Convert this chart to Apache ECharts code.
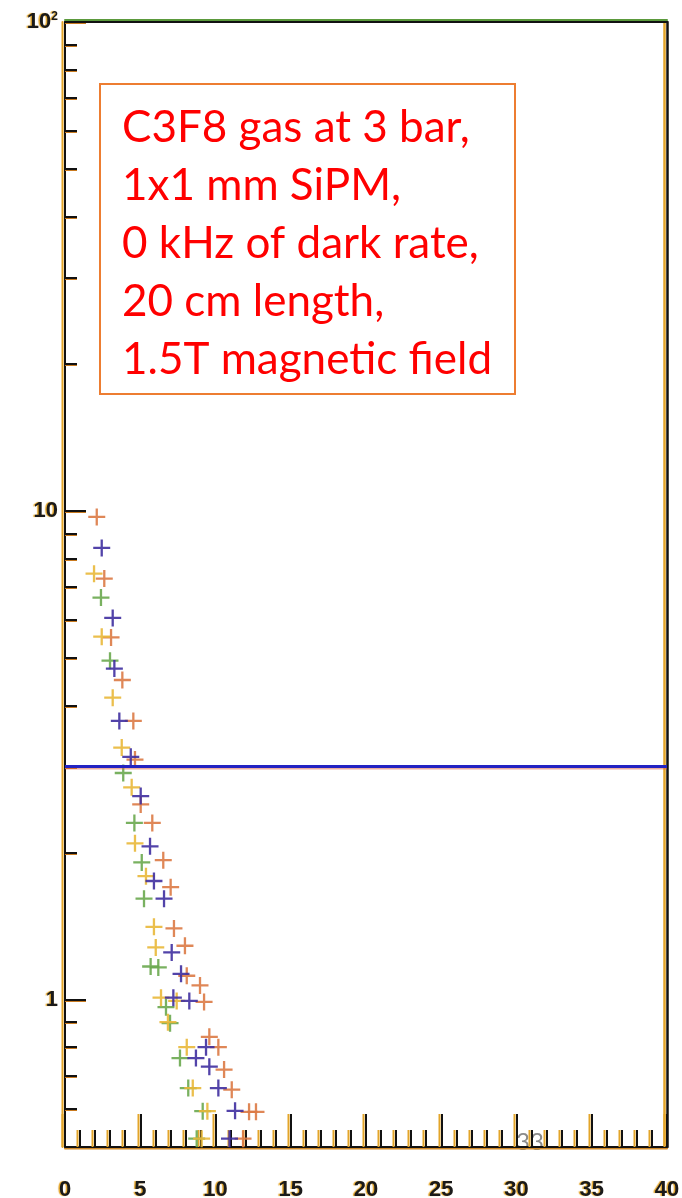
<!DOCTYPE html>
<html>
<head>
<meta charset="utf-8">
<script src="https://cdn.jsdelivr.net/npm/echarts@6/dist/echarts.min.js"></script>
<style>
  html, body { margin: 0; padding: 0; background: #fff; }
  #chart { width: 682px; height: 1198px; }
</style>
</head>
<body>
<div id="chart"></div>
<script>
// Measured points [x, y] for each of the four runs
const orangePts = [[2.11,9.72],[2.61,7.27],[3.06,5.51],[3.81,4.51],[4.54,3.72],[4.65,3.10],[5.03,2.51],[5.80,2.30],[6.53,1.93],[7.02,1.70],[7.24,1.40],[7.97,1.29],[8.09,1.12],[8.97,1.07],[9.24,0.99],[9.59,0.84],[10.19,0.80],[10.57,0.72],[11.08,0.655],[12.23,0.59],[12.69,0.59],[11.83,0.52]];
const bluePts = [[2.44,8.40],[3.17,6.04],[3.28,4.76],[3.61,3.72],[4.37,3.14],[5.03,2.61],[5.65,2.06],[5.91,1.75],[6.58,1.61],[7.09,1.25],[7.71,1.13],[7.20,1.01],[8.26,0.995],[9.37,0.80],[8.70,0.76],[9.59,0.73],[10.19,0.66],[11.30,0.593],[10.93,0.52]];
const yellowPts = [[1.93,7.44],[2.44,5.53],[3.17,4.15],[3.77,3.28],[4.43,2.72],[4.65,2.09],[5.38,1.79],[5.91,1.41],[6.03,1.28],[6.38,1.01],[7.42,0.995],[6.84,0.90],[8.09,0.80],[8.49,0.66],[9.46,0.592],[9.08,0.52]];
const greenPts = [[2.39,6.65],[2.99,4.94],[3.87,2.91],[4.61,2.30],[5.10,1.91],[5.25,1.61],[5.69,1.17],[6.20,1.165],[6.71,0.966],[6.98,0.896],[7.64,0.76],[8.19,0.66],[9.15,0.592],[8.75,0.52]];

// Threshold level drawn as a horizontal line
const threshold = 3;

// Axis ranges and tick values
const xMin = 0, xMax = 40, xStep = 5;
const yMin = 0.5, yMax = 100;
const yMajorTicks = [1, 10, 100];
const yMinorTicks = [0.6, 0.7, 0.8, 0.9, 2, 3, 4, 5, 6, 7, 8, 9, 20, 30, 40, 50, 60, 70, 80, 90];

// Annotation text
const noteLines = ['C3F8 gas at 3 bar,', '1x1 mm SiPM,', '0 kHz of dark rate,', '20 cm length,', '1.5T magnetic field'];
const pageNumber = '33';

const plus = 'path://M0,10L20,10M10,0L10,20';
const gold = '#e3a52a';
const labelStyle = {
  color: '#1a1a1a', fontFamily: 'Liberation Sans', fontWeight: 'bold', fontSize: 22,
  textShadowColor: gold, textShadowOffsetX: -1.5, textShadowOffsetY: 0, textShadowBlur: 1
};
const blackLine = (sc, ox, oy, w) => ({
  color: '#111', width: w || 2, shadowColor: sc, shadowOffsetX: ox, shadowOffsetY: oy, shadowBlur: 0
});

function crossSeries(name, data, color) {
  return {
    name, type: 'scatter', data,
    symbol: plus, symbolSize: 17,
    itemStyle: { color: 'none', borderColor: color, borderWidth: 2.3, opacity: 0.9 },
    z: 3
  };
}

const chart = echarts.init(document.getElementById('chart'), null, { renderer: 'canvas' });
chart.setOption({
  animation: false,
  backgroundColor: '#fff',
  grid: { left: 65, right: 15, top: 22, bottom: 51, containLabel: false, outerBoundsMode: 'none' },
  xAxis: [{
    type: 'value', min: xMin, max: xMax, interval: xStep, position: 'bottom',
    axisLine: { show: true, lineStyle: blackLine('#d08a2a', 0, 1.5, 2) },
    axisTick: { show: true, inside: true, length: 33, lineStyle: blackLine(gold, -2.5, 0, 2) },
    minorTick: { show: true, splitNumber: 5, length: 17, lineStyle: blackLine(gold, -2.5, 0, 2) },
    splitLine: { show: false },
    axisLabel: Object.assign({ margin: 32 }, labelStyle)
  }, {
    type: 'value', min: xMin, max: xMax, position: 'top',
    axisLine: { show: true, lineStyle: blackLine('#5b9a3c', 0, -2, 2) },
    axisTick: { show: false }, axisLabel: { show: false }, splitLine: { show: false }
  }],
  yAxis: [{
    type: 'log', min: yMin, max: yMax, position: 'left',
    axisLine: { show: true, lineStyle: blackLine(gold, -2.5, 0, 2) },
    axisTick: { show: true, inside: true, length: 21, customValues: yMajorTicks, lineStyle: blackLine('#c87a20', 0, 1, 2) },
    splitLine: { show: false },
    axisLabel: Object.assign({
      margin: 7, customValues: yMajorTicks,
      formatter: v => (v === 100 ? '10{sup|2}' : String(v)),
      rich: { sup: { fontSize: 12, fontWeight: 'bold', fontFamily: 'Liberation Sans', color: '#1a1a1a', verticalAlign: 'top', padding: [0, 0, 11, 0] } }
    }, labelStyle)
  }, {
    type: 'log', min: yMin, max: yMax, position: 'left',
    axisLine: { show: false },
    axisTick: { show: true, inside: true, length: 12, customValues: yMinorTicks, lineStyle: blackLine('#c87a20', 0, 1, 2) },
    axisLabel: { show: false }, splitLine: { show: false }
  }, {
    type: 'log', min: yMin, max: yMax, position: 'right',
    axisLine: { show: true, lineStyle: blackLine(gold, -3, 0, 2.5) },
    axisTick: { show: false }, axisLabel: { show: false }, splitLine: { show: false }
  }],
  graphic: [{
    type: 'text', z: 0,
    style: { text: pageNumber, x: 530, y: 1142, fill: '#8a8a8a', fontSize: 24, fontFamily: 'Lato', align: 'center', verticalAlign: 'middle' }
  }, {
    type: 'rect', z: 10,
    shape: { x: 100, y: 84, width: 415, height: 310 },
    style: { fill: 'none', stroke: '#ed7d31', lineWidth: 2 }
  }, {
    type: 'text', z: 10,
    style: { text: noteLines.join('\n'), x: 122, y: 99, fill: '#ff0000', fontSize: 44, fontFamily: 'Lato', lineHeight: 58 }
  }],
  series: [
    crossSeries('orange', orangePts, '#dc7a45'),
    crossSeries('green', greenPts, '#6aa84f'),
    crossSeries('yellow', yellowPts, '#e9b83a'),
    Object.assign(crossSeries('blue', bluePts, '#3f2fa0'), {
      markLine: {
        silent: true, symbol: 'none', label: { show: false },
        lineStyle: { color: '#2323c2', width: 3, type: 'solid', shadowColor: 'rgba(220,90,60,0.5)', shadowOffsetY: 1.5, shadowBlur: 0 },
        data: [{ yAxis: threshold }]
      }
    })
  ]
});
</script>
</body>
</html>
